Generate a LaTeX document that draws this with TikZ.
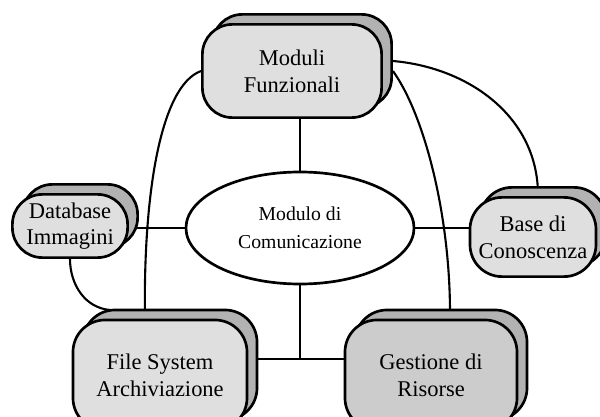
\documentclass[tikz,border=0pt]{standalone}
\usepackage{fontspec}
\setmainfont{Liberation Serif}
\usetikzlibrary{shapes.geometric,shadows,backgrounds}

\begin{document}
\begin{tikzpicture}[x=0.025cm,y=0.025cm,
    modbox/.style={draw, line width=1.9pt, fill=gray!25, rounded corners=0.75cm,
        align=center, font=\fontsize{16}{19}\selectfont,
        copy shadow={shadow xshift=0.25cm, shadow yshift=0.25cm,
            fill=gray!60, draw=black, line width=1.9pt}},
    link/.style={line width=1.5pt}]
    \useasboundingbox (0,0) rectangle (600,416);

    % communication module
    \node[ellipse, draw, line width=1.9pt, fill=white, minimum width=5.7cm,
        minimum height=2.8cm, align=center, font=\fontsize{14}{20}\selectfont]
        (comm) at (300,188) {Modulo di\\Comunicazione};

    % modules around it
    \node[modbox, minimum width=4.48cm, minimum height=2.33cm] (modf) at (292,345) {Moduli\\Funzionali};
    \node[modbox, minimum width=2.88cm, minimum height=1.58cm] (dbimm) at (70,190) {Database\\Immagini};
    \node[modbox, minimum width=3.15cm, minimum height=1.98cm, rounded corners=0.8cm] (basec) at (533,179) {Base di\\Conoscenza};
    \node[modbox, minimum width=4.35cm, minimum height=2.75cm, rounded corners=0.8cm] (fsarch) at (160,41) {File System\\Archiviazione};
    \node[modbox, fill=gray!40, minimum width=4.3cm, minimum height=2.75cm, rounded corners=0.8cm] (gestr) at (431,41) {Gestione di\\Risorse};

    \coordinate (jn) at (300,57);
    \coordinate (fstop) at (145,96);
    \coordinate (dbend) at (110,106);
    \coordinate (bstop) at (538,221);
    \coordinate (grtop) at (450,103);

    % connectors
    \begin{pgfonlayer}{background}
        \draw[link] (comm.north) -- (comm.north |- modf.south);
        \draw[link] (comm.west) -- (comm.west -| dbimm.east);
        \draw[link] (comm.east) -- (comm.east -| basec.west);
        \draw[link] (comm.south) -- (jn);
        \draw[link] (fsarch.east |- jn) -- (gestr.west |- jn);
        \draw[link] (modf.west) .. controls (160,330) and (143,220) .. (fstop);
        \draw[link] (dbimm.south) to[out=-90, in=175] (dbend);
        \draw[link] ([xshift=0.25cm,yshift=0.25cm]modf.east) to[out=-5, in=90] (bstop);
        \draw[link] ([xshift=0.25cm]modf.east) .. controls (425,300) and (450,200) .. (grtop);
    \end{pgfonlayer}
\end{tikzpicture}
\end{document}
